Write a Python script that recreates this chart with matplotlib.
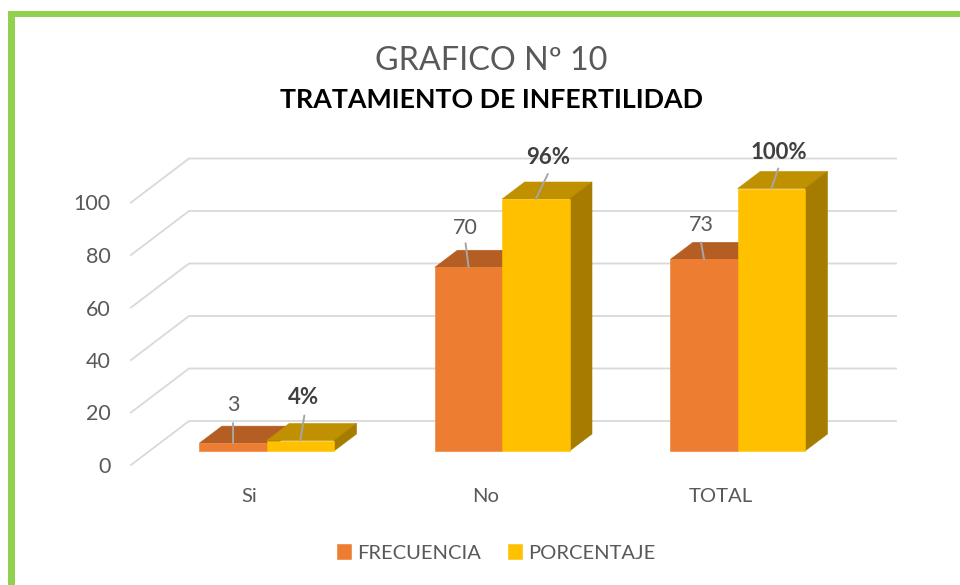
import matplotlib
matplotlib.use("Agg")
import matplotlib.pyplot as plt
from matplotlib.patches import Polygon, Rectangle

categories = ["Si", "No", "TOTAL"]
frecuencia = [3, 70, 73]
porcentaje = [4, 96, 100]
porcentaje_labels = ["4%", "96%", "100%"]
y_ticks = [0, 20, 40, 60, 80, 100]
series_names = ["FRECUENCIA", "PORCENTAJE"]

W, H = 960, 585
plt.rcParams["font.family"] = ["Lato", "DejaVu Sans"]
fig = plt.figure(figsize=(W / 100, H / 100), dpi=100, facecolor="white")

# green frame
GREEN = "#92D050"
fig.add_artist(Rectangle((8 / W, 0), 6.7 / W, 1 - 11 / H, transform=fig.transFigure, fc=GREEN, ec="none"))
fig.add_artist(Rectangle((8 / W, 1 - 17.3 / H), 1 - 8 / W, 6.3 / H, transform=fig.transFigure, fc=GREEN, ec="none"))

# axes box in pixels
L, R, T, B = 116, 920, 130, 480
ax = fig.add_axes([L / W, 1 - B / H, (R - L) / W, (B - T) / H])
PX_X = 235.5      # pixels per category
PX_Y = 2.625      # pixels per value unit
X0, Y0 = 266.7, 451  # pixel position of first group centre / bar baseline
ax.set_xlim((L - X0) / PX_X, (R - X0) / PX_X)
ax.set_ylim((Y0 - B) / PX_Y, (Y0 - T) / PX_Y)
ax.patch.set_alpha(0)
for s in ax.spines.values():
    s.set_visible(False)

bar_w = 67.3 / PX_X
depth_x, depth_y = 22.5 / PX_X, 17 / PX_Y

# 3D-looking walls: back line + diagonal to the front
back_x0, back_x1 = (189 - X0) / PX_X, (896 - X0) / PX_X
front_x = (131 - X0) / PX_X
back_off = (Y0 - 421) / PX_Y
front_off = (Y0 - 465) / PX_Y
GRID = "#D9D9D9"
for v in y_ticks:
    ax.plot([front_x, back_x0, back_x1], [v + front_off, v + back_off, v + back_off],
            color=GRID, lw=1.3, zorder=1, solid_joinstyle="miter")

ax.set_yticks([v + front_off for v in y_ticks], [str(v) for v in y_ticks])
ax.set_xticks([i - 17 / PX_X for i in range(len(categories))], categories)
ax.tick_params(axis="y", length=0, pad=4, labelsize=15.5, labelcolor="#595959")
ax.tick_params(axis="x", length=0, pad=6, labelsize=14.6, labelcolor="#595959")

styles = [("#ED7D31", "#B55E24", "#A0531E"), ("#FFC000", "#BF9000", "#A67C00")]


def draw_series(values, offset, st, z, name):
    face, top, side = st
    bars = ax.bar([i + offset for i in range(len(values))], values, bar_w,
                  color=face, edgecolor=face, linewidth=0.4, zorder=z + 0.2, label=name)
    for i, v in enumerate(values):
        x0 = i + offset - bar_w / 2
        x1 = x0 + bar_w
        ax.add_patch(Polygon([(x0, v), (x1, v), (x1 + depth_x, v + depth_y), (x0 + depth_x, v + depth_y)],
                             fc=top, ec=top, lw=0.4, zorder=z))
        ax.add_patch(Polygon([(x1, 0), (x1 + depth_x, depth_y), (x1 + depth_x, v + depth_y), (x1, v)],
                             fc=side, ec=side, lw=0.4, zorder=z))
    return bars


b1 = draw_series(frecuencia, -bar_w / 2, styles[0], 2, series_names[0])
b2 = draw_series(porcentaje, bar_w / 2, styles[1], 3, series_names[1])

# data labels with leader lines (offsets in pixels from the bar top)
freq_off = [((0, 20), (0, 38)), ((-3, 24), (-3, 39)), ((-3, 17), (-3, 34))]
pct_off = [((4, 25), (3, 43)), ((12, 25), (12, 42)), ((7, 20), (7, 36))]


def labels(values, offset, texts, offs, bold, size, color):
    for i, (v, t, (lo, to)) in enumerate(zip(values, texts, offs)):
        xy = (i + offset, v)
        ax.annotate("", xy=xy, xytext=(lo[0] * 0.72, lo[1] * 0.72), textcoords="offset points",
                    arrowprops=dict(arrowstyle="-", color="#A6A6A6", lw=1.4, shrinkA=0, shrinkB=0),
                    zorder=6)
        ax.annotate(t, xy=xy, xytext=(to[0] * 0.72, to[1] * 0.72), textcoords="offset points",
                    ha="center", va="center", fontsize=size, color=color,
                    fontweight="bold" if bold else "normal", zorder=7)


labels(frecuencia, -bar_w / 2, [str(v) for v in frecuencia], freq_off, False, 15.5, "#595959")
labels(porcentaje, bar_w / 2, porcentaje_labels, pct_off, True, 16, "#404040")

fig.text(491 / W, 1 - 61 / H, "GRAFICO Nº 10", ha="center", va="center", fontsize=23.3, color="#595959")
fig.text(492 / W, 1 - 100 / H, "TRATAMIENTO DE INFERTILIDAD", ha="center", va="center",
         fontsize=19.3, fontweight="bold", color="black")

fig.legend(handles=[b1, b2], labels=series_names, loc="center", bbox_to_anchor=(496 / W, 1 - 553 / H),
           ncol=2, frameon=False, fontsize=14.5, labelcolor="#595959", handlelength=0.7, handleheight=0.7,
           handletextpad=0.3, columnspacing=1.35)

fig.savefig("out.png", dpi=100, facecolor="white")
